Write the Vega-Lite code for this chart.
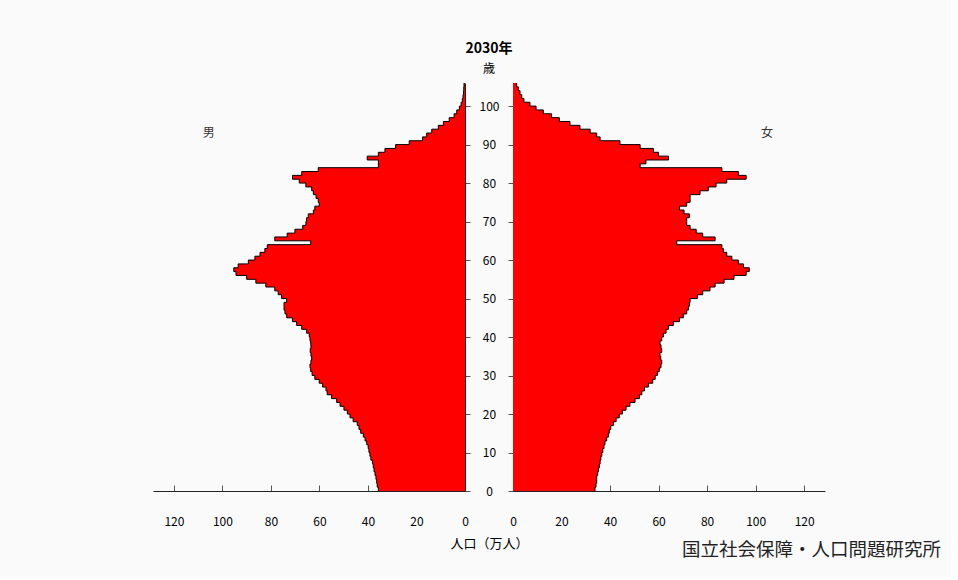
{
  "$schema": "https://vega.github.io/schema/vega-lite/v6.json",
  "background": "#fafafa",
  "autosize": {"type": "pad"},
  "padding": {"left": 153, "top": 42, "right": 10, "bottom": 18},
  "config": {
    "font": "Noto Sans CJK JP",
    "view": {"stroke": null},
    "axis": {"grid": false, "domainColor": "#222", "tickColor": "#555", "labelColor": "#000", "labelFontSize": 12, "titleColor": "#000", "labelFlush": false}
  },
  "datasets": {
    "pop": [
      {"sex":"男","age":0,"pop":35.7},{"sex":"男","age":1,"pop":36.2},{"sex":"男","age":2,"pop":36.4},{"sex":"男","age":3,"pop":36.7},{"sex":"男","age":4,"pop":37.1},
      {"sex":"男","age":5,"pop":37.5},{"sex":"男","age":6,"pop":37.8},{"sex":"男","age":7,"pop":38.1},{"sex":"男","age":8,"pop":38.8},{"sex":"男","age":9,"pop":39.2},
      {"sex":"男","age":10,"pop":39.6},{"sex":"男","age":11,"pop":39.9},{"sex":"男","age":12,"pop":40.5},{"sex":"男","age":13,"pop":41.2},{"sex":"男","age":14,"pop":41.9},
      {"sex":"男","age":15,"pop":43.0},{"sex":"男","age":16,"pop":43.7},{"sex":"男","age":17,"pop":44.4},{"sex":"男","age":18,"pop":46.1},{"sex":"男","age":19,"pop":47.4},
      {"sex":"男","age":20,"pop":48.5},{"sex":"男","age":21,"pop":49.9},{"sex":"男","age":22,"pop":51.5},{"sex":"男","age":23,"pop":52.9},{"sex":"男","age":24,"pop":55.0},
      {"sex":"男","age":25,"pop":56.8},{"sex":"男","age":26,"pop":57.3},{"sex":"男","age":27,"pop":58.7},{"sex":"男","age":28,"pop":60.1},{"sex":"男","age":29,"pop":61.9},
      {"sex":"男","age":30,"pop":63.0},{"sex":"男","age":31,"pop":63.6},{"sex":"男","age":32,"pop":63.9},{"sex":"男","age":33,"pop":63.5},{"sex":"男","age":34,"pop":63.2},
      {"sex":"男","age":35,"pop":63.5},{"sex":"男","age":36,"pop":63.8},{"sex":"男","age":37,"pop":63.5},{"sex":"男","age":38,"pop":63.6},{"sex":"男","age":39,"pop":63.9},
      {"sex":"男","age":40,"pop":64.2},{"sex":"男","age":41,"pop":65.3},{"sex":"男","age":42,"pop":67.3},{"sex":"男","age":43,"pop":69.4},{"sex":"男","age":44,"pop":71.1},
      {"sex":"男","age":45,"pop":73.5},{"sex":"男","age":46,"pop":74.2},{"sex":"男","age":47,"pop":74.6},{"sex":"男","age":48,"pop":74.6},{"sex":"男","age":49,"pop":73.5},
      {"sex":"男","age":50,"pop":75.6},{"sex":"男","age":51,"pop":77.0},{"sex":"男","age":52,"pop":78.4},{"sex":"男","age":53,"pop":82.1},{"sex":"男","age":54,"pop":86.2},
      {"sex":"男","age":55,"pop":90.0},{"sex":"男","age":56,"pop":94.4},{"sex":"男","age":57,"pop":95.3},{"sex":"男","age":58,"pop":93.5},{"sex":"男","age":59,"pop":89.3},
      {"sex":"男","age":60,"pop":86.6},{"sex":"男","age":61,"pop":84.5},{"sex":"男","age":62,"pop":82.5},{"sex":"男","age":63,"pop":81.5},{"sex":"男","age":64,"pop":63.6},
      {"sex":"男","age":65,"pop":78.4},{"sex":"男","age":66,"pop":73.3},{"sex":"男","age":67,"pop":70.1},{"sex":"男","age":68,"pop":66.9},{"sex":"男","age":69,"pop":65.6},
      {"sex":"男","age":70,"pop":65.3},{"sex":"男","age":71,"pop":64.6},{"sex":"男","age":72,"pop":62.5},{"sex":"男","age":73,"pop":61.9},{"sex":"男","age":74,"pop":60.1},
      {"sex":"男","age":75,"pop":60.5},{"sex":"男","age":76,"pop":61.4},{"sex":"男","age":77,"pop":62.5},{"sex":"男","age":78,"pop":63.2},{"sex":"男","age":79,"pop":65.6},
      {"sex":"男","age":80,"pop":68.3},{"sex":"男","age":81,"pop":71.1},{"sex":"男","age":82,"pop":67.3},{"sex":"男","age":83,"pop":60.5},{"sex":"男","age":84,"pop":35.7},
      {"sex":"男","age":85,"pop":35.7},{"sex":"男","age":86,"pop":40.3},{"sex":"男","age":87,"pop":35.7},{"sex":"男","age":88,"pop":33.0},{"sex":"男","age":89,"pop":28.6},
      {"sex":"男","age":90,"pop":23.0},{"sex":"男","age":91,"pop":17.5},{"sex":"男","age":92,"pop":15.8},{"sex":"男","age":93,"pop":13.7},{"sex":"男","age":94,"pop":11.0},
      {"sex":"男","age":95,"pop":8.9},{"sex":"男","age":96,"pop":6.5},{"sex":"男","age":97,"pop":4.5},{"sex":"男","age":98,"pop":3.4},{"sex":"男","age":99,"pop":2.3},
      {"sex":"男","age":100,"pop":1.6},{"sex":"男","age":101,"pop":1.1},{"sex":"男","age":102,"pop":0.8},{"sex":"男","age":103,"pop":0.6},{"sex":"男","age":104,"pop":0.5},
      {"sex":"男","age":105,"pop":0.4},
      {"sex":"女","age":0,"pop":33.8},{"sex":"女","age":1,"pop":34.2},{"sex":"女","age":2,"pop":34.5},{"sex":"女","age":3,"pop":34.5},{"sex":"女","age":4,"pop":34.9},
      {"sex":"女","age":5,"pop":35.2},{"sex":"女","age":6,"pop":35.6},{"sex":"女","age":7,"pop":35.9},{"sex":"女","age":8,"pop":36.2},{"sex":"女","age":9,"pop":36.6},
      {"sex":"女","age":10,"pop":37.0},{"sex":"女","age":11,"pop":37.5},{"sex":"女","age":12,"pop":37.9},{"sex":"女","age":13,"pop":38.6},{"sex":"女","age":14,"pop":39.3},
      {"sex":"女","age":15,"pop":39.7},{"sex":"女","age":16,"pop":40.3},{"sex":"女","age":17,"pop":41.4},{"sex":"女","age":18,"pop":42.5},{"sex":"女","age":19,"pop":43.8},
      {"sex":"女","age":20,"pop":45.1},{"sex":"女","age":21,"pop":46.6},{"sex":"女","age":22,"pop":48.2},{"sex":"女","age":23,"pop":50.3},{"sex":"女","age":24,"pop":52.1},
      {"sex":"女","age":25,"pop":53.1},{"sex":"女","age":26,"pop":54.2},{"sex":"女","age":27,"pop":55.8},{"sex":"女","age":28,"pop":57.6},{"sex":"女","age":29,"pop":58.6},
      {"sex":"女","age":30,"pop":59.5},{"sex":"女","age":31,"pop":60.3},{"sex":"女","age":32,"pop":61.0},{"sex":"女","age":33,"pop":61.3},{"sex":"女","age":34,"pop":60.9},
      {"sex":"女","age":35,"pop":60.6},{"sex":"女","age":36,"pop":61.3},{"sex":"女","age":37,"pop":61.0},{"sex":"女","age":38,"pop":60.6},{"sex":"女","age":39,"pop":61.3},
      {"sex":"女","age":40,"pop":62.0},{"sex":"女","age":41,"pop":63.1},{"sex":"女","age":42,"pop":64.1},{"sex":"女","age":43,"pop":66.1},{"sex":"女","age":44,"pop":68.6},
      {"sex":"女","age":45,"pop":70.2},{"sex":"女","age":46,"pop":71.6},{"sex":"女","age":47,"pop":72.3},{"sex":"女","age":48,"pop":72.7},{"sex":"女","age":49,"pop":73.0},
      {"sex":"女","age":50,"pop":76.0},{"sex":"女","age":51,"pop":78.2},{"sex":"女","age":52,"pop":81.2},{"sex":"女","age":53,"pop":83.3},{"sex":"女","age":54,"pop":87.0},
      {"sex":"女","age":55,"pop":91.1},{"sex":"女","age":56,"pop":96.1},{"sex":"女","age":57,"pop":97.4},{"sex":"女","age":58,"pop":95.0},{"sex":"女","age":59,"pop":92.9},
      {"sex":"女","age":60,"pop":90.2},{"sex":"女","age":61,"pop":88.1},{"sex":"女","age":62,"pop":86.7},{"sex":"女","age":63,"pop":86.1},{"sex":"女","age":64,"pop":67.5},
      {"sex":"女","age":65,"pop":83.3},{"sex":"女","age":66,"pop":78.2},{"sex":"女","age":67,"pop":75.5},{"sex":"女","age":68,"pop":73.0},{"sex":"女","age":69,"pop":71.6},
      {"sex":"女","age":70,"pop":71.6},{"sex":"女","age":71,"pop":72.7},{"sex":"女","age":72,"pop":70.5},{"sex":"女","age":73,"pop":68.6},{"sex":"女","age":74,"pop":71.6},
      {"sex":"女","age":75,"pop":73.0},{"sex":"女","age":76,"pop":73.0},{"sex":"女","age":77,"pop":77.1},{"sex":"女","age":78,"pop":80.5},{"sex":"女","age":79,"pop":83.7},
      {"sex":"女","age":80,"pop":88.1},{"sex":"女","age":81,"pop":96.1},{"sex":"女","age":82,"pop":92.9},{"sex":"女","age":83,"pop":86.1},{"sex":"女","age":84,"pop":52.4},
      {"sex":"女","age":85,"pop":54.8},{"sex":"女","age":86,"pop":64.1},{"sex":"女","age":87,"pop":60.0},{"sex":"女","age":88,"pop":57.9},{"sex":"女","age":89,"pop":52.4},
      {"sex":"女","age":90,"pop":44.1},{"sex":"女","age":91,"pop":35.9},{"sex":"女","age":92,"pop":34.5},{"sex":"女","age":93,"pop":31.8},{"sex":"女","age":94,"pop":27.6},
      {"sex":"女","age":95,"pop":23.5},{"sex":"女","age":96,"pop":19.1},{"sex":"女","age":97,"pop":15.9},{"sex":"女","age":98,"pop":12.5},{"sex":"女","age":99,"pop":9.5},
      {"sex":"女","age":100,"pop":7.0},{"sex":"女","age":101,"pop":4.5},{"sex":"女","age":102,"pop":3.6},{"sex":"女","age":103,"pop":2.9},{"sex":"女","age":104,"pop":2.2},
      {"sex":"女","age":105,"pop":1.5}
    ]
  },
  "bounds": "flush",
  "spacing": 48,
  "hconcat": [
    {
      "width": 312,
      "height": 408,
      "title": {
        "text": "2030年",
        "subtitle": "歳",
        "fontSize": 14,
        "fontWeight": "bold",
        "color": "#000",
        "subtitleFontSize": 12,
        "subtitleColor": "#000",
        "subtitlePadding": 8,
        "anchor": "end",
        "align": "center",
        "frame": "group",
        "dx": 24,
        "offset": 6
      },
      "layer": [
        {
          "data": {"name": "pop"},
          "transform": [
            {"filter": "datum.sex === '男'"},
            {"bin": {"step": 1, "extent": [0, 106]}, "field": "age", "as": "ageBand"},
            {"fold": ["ageBand", "ageBand_end"], "as": ["edge", "ageEdge"]}
          ],
          "encoding": {
            "x": {
              "field": "pop", "type": "quantitative", "stack": null,
              "scale": {"domain": [0, 128.6], "reverse": true, "nice": false, "zero": true},
              "axis": {
                "values": [0, 20, 40, 60, 80, 100, 120],
                "tickSize": -6, "labelPadding": 36, "labelBaseline": "middle", "labelFlush": false,
                "title": "人口（万人）", "titleFontSize": 13, "titleFontWeight": "normal",
                "titleX": 336, "titleY": 52, "titleAlign": "center", "titleBaseline": "middle", "titleAnchor": null
              }
            },
            "y": {
              "field": "ageEdge", "type": "quantitative",
              "scale": {"domain": [0, 106], "nice": false},
              "axis": {
                "orient": "right",
                "values": [0, 5, 10, 15, 20, 25, 30, 35, 40, 45, 50, 55, 60, 65, 70, 75, 80, 85, 90, 95, 100, 105],
                "tickSize": 5, "labelAlign": "center", "labelPadding": 19, "labelBaseline": "middle",
                "title": null, "labelOverlap": false, "labelFlush": false
              }
            },
            "order": {"value": null}
          },
          "layer": [
            {"mark": {"type": "area", "orient": "horizontal", "color": "#ff0000", "opacity": 1}},
            {"mark": {"type": "line", "color": "#000000", "strokeWidth": 1}}
          ]
        },
        {
          "data": {"values": [{"label": "男", "pop": 105.6, "age": 93}]},
          "mark": {"type": "text", "fontSize": 12, "color": "#333", "baseline": "middle", "align": "center"},
          "encoding": {
            "x": {"field": "pop", "type": "quantitative"},
            "y": {"field": "age", "type": "quantitative"},
            "text": {"field": "label"}
          }
        }
      ]
    },
    {
      "width": 312,
      "height": 408,
      "layer": [
        {
          "data": {"name": "pop"},
          "transform": [
            {"filter": "datum.sex === '女'"},
            {"bin": {"step": 1, "extent": [0, 106]}, "field": "age", "as": "ageBand"},
            {"fold": ["ageBand", "ageBand_end"], "as": ["edge", "ageEdge"]}
          ],
          "encoding": {
            "x": {
              "field": "pop", "type": "quantitative", "stack": null,
              "scale": {"domain": [0, 128.6], "nice": false, "zero": true},
              "axis": {
                "values": [0, 20, 40, 60, 80, 100, 120],
                "tickSize": -6, "labelPadding": 36, "labelBaseline": "middle", "labelFlush": false,
                "title": "国立社会保障・人口問題研究所", "titleFontSize": 18.5, "titleFontWeight": "normal", "titleColor": "#222",
                "titleX": 298, "titleY": 58, "titleAlign": "center", "titleBaseline": "middle", "titleAnchor": null
              }
            },
            "y": {
              "field": "ageEdge", "type": "quantitative",
              "scale": {"domain": [0, 106], "nice": false},
              "axis": {
                "orient": "left",
                "values": [0, 5, 10, 15, 20, 25, 30, 35, 40, 45, 50, 55, 60, 65, 70, 75, 80, 85, 90, 95, 100, 105],
                "tickSize": 5, "labels": false, "title": null
              }
            },
            "order": {"value": null}
          },
          "layer": [
            {"mark": {"type": "area", "orient": "horizontal", "color": "#ff0000", "opacity": 1}},
            {"mark": {"type": "line", "color": "#000000", "strokeWidth": 1}}
          ]
        },
        {
          "data": {"values": [{"label": "女", "pop": 104.7, "age": 93}]},
          "mark": {"type": "text", "fontSize": 12, "color": "#333", "baseline": "middle", "align": "center"},
          "encoding": {
            "x": {"field": "pop", "type": "quantitative"},
            "y": {"field": "age", "type": "quantitative"},
            "text": {"field": "label"}
          }
        }
      ]
    }
  ]
}
